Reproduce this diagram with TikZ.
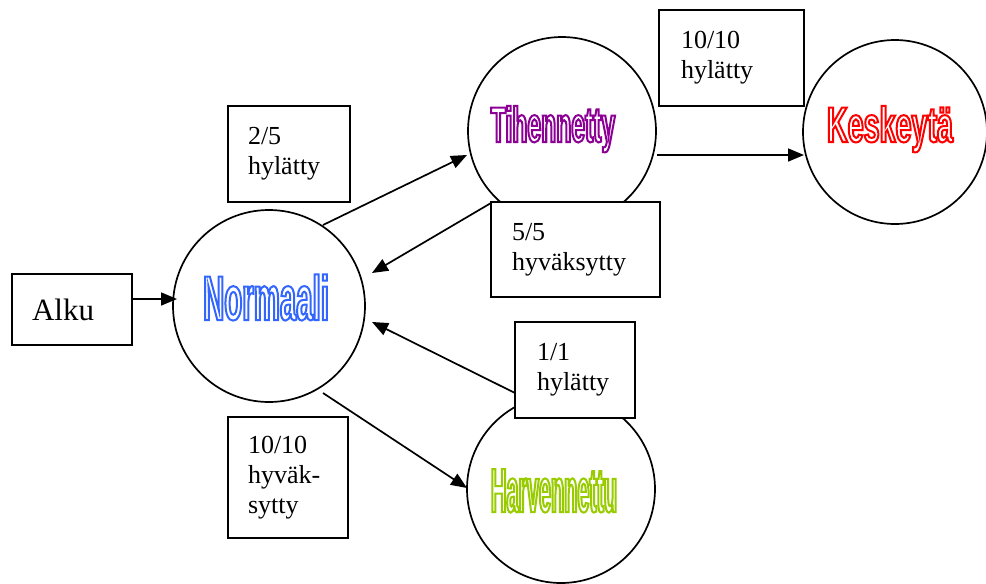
\documentclass[tikz,border=0pt]{standalone}
\usepackage{fontspec}
\setmainfont{Liberation Serif}
\newfontfamily\wafont{Liberation Sans}
\usetikzlibrary{arrows.meta}
\definecolor{cnorm}{RGB}{51,102,255}
\definecolor{ctih}{RGB}{140,0,150}
\definecolor{ckes}{RGB}{255,0,0}
\definecolor{charv}{RGB}{153,204,0}
\newcommand\wordart[3]{{\fontsize{#2}{#2}\selectfont\wafont\bfseries\addfontfeatures{FakeStretch=#1}\special{pdf:literal direct 1 Tr 2 w}#3\special{pdf:literal direct 0 Tr}}}
\tikzset{
  state/.style={circle, draw, line width=1.7pt, fill=white, inner sep=0pt},
  lbox/.style={rectangle, draw, line width=1.8pt, fill=white, align=left,
     font=\fontsize{26}{30}\selectfont, inner ysep=0pt},
  conn/.style={line width=1.7pt, -{Triangle[length=16pt,width=13pt]}},
  wa/.style={anchor=base, inner sep=0pt}
}
\begin{document}
\begin{tikzpicture}[x=1pt,y=-1pt]
\useasboundingbox (0,0) rectangle (986,584);
% states
\node[state, minimum size=192pt] (norm) at (269,306) {};
\node[state, minimum size=188pt] (tih) at (562,131) {};
\node[state, minimum size=184pt] (kes) at (895,132) {};
\node[state, minimum size=188pt] (harv) at (561,489) {};
% wordart labels
\node[wa, text=cnorm] (normt) at (266,320) {\wordart{0.467}{63}{Normaali}};
\node[wa, text=ctih] (tiht) at (553,142) {\wordart{0.494}{50}{Tihennetty}};
\node[wa, text=ckes] (kest) at (890,142) {\wordart{0.574}{50}{Keskeytä}};
\node[wa, text=charv] (harvt) at (554,512) {\wordart{0.346}{62.5}{Harvennettu}};
% connector end points
\coordinate (a1s) at (323,225);
\coordinate (a1e) at (467,155);
\coordinate (a2s) at (491,203);
\coordinate (a2e) at (372,273);
\coordinate (a3s) at (657,155);
\coordinate (a3e) at (804,155);
\coordinate (a4s) at (515,393);
\coordinate (a4e) at (372,322);
\coordinate (a5s) at (323,393);
\coordinate (a5e) at (467,488);
\coordinate (a0s) at (132,299);
\coordinate (a0e) at (177,299);
% connectors
\draw[conn] (a0s) -- (a0e);
\draw[conn] (a1s) -- (a1e);
\draw[conn] (a2s) -- (a2e);
\draw[conn] (a3s) -- (a3e);
\draw[conn] (a4s) -- (a4e);
\draw[conn] (a5s) -- (a5e);
% boxes
\node[lbox, font=\fontsize{31}{36}\selectfont, minimum width=120pt, minimum height=71pt, inner xsep=20pt, text width=80pt] (alku) at (72,309.5) {Alku};
\node[lbox, minimum width=122pt, minimum height=96pt, inner xsep=20pt, text width=82pt] (b25) at (289,154) {2/5\\hylätty};
\node[lbox, minimum width=145pt, minimum height=96pt, inner xsep=22pt, text width=101pt] (b1010h) at (731.5,58) {10/10\\hylätty};
\node[lbox, minimum width=169pt, minimum height=95pt, inner xsep=21pt, text width=127pt] (b55) at (575.5,249.5) {5/5\\hyväksytty};
\node[lbox, minimum width=120pt, minimum height=96pt, inner xsep=22pt, text width=76pt] (b11) at (575,370) {1/1\\hylätty};
\node[lbox, minimum width=120pt, minimum height=121pt, inner xsep=20pt, text width=80pt] (b1010v) at (288,477.5) {10/10\\hyväk-\\sytty};
\end{tikzpicture}
\end{document}
